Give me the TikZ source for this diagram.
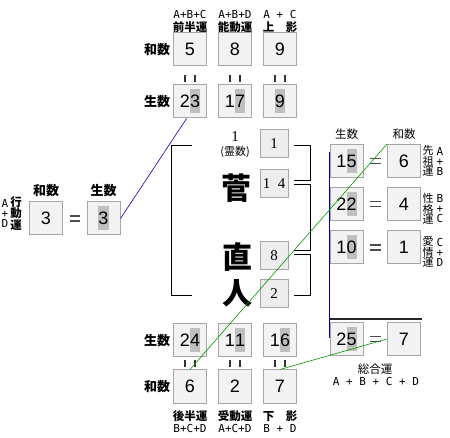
\documentclass[tikz,border=0pt]{standalone}
\usepackage{fontspec}
\newfontfamily\cjk{Noto Sans CJK JP}
\newfontfamily\numf{Liberation Sans}
\newfontfamily\serf{Liberation Serif}
\newfontfamily\monof{DejaVu Sans Mono}
\usetikzlibrary{calc}
\newcommand\hlt[1]{{\setlength\fboxsep{0pt}\colorbox{black!25}{\rule[-5.5pt]{0pt}{24pt}#1}}}
\tikzset{
  numbox/.style={draw=black!35, fill=black!5, line width=1pt, minimum width=33pt, minimum height=33pt, inner sep=0pt, font={\numf\fontsize{18}{18}\selectfont}},
  smallbox/.style={draw=black!35, fill=black!7, line width=1pt, minimum width=28pt, minimum height=28pt, inner sep=0pt, font={\serf\fontsize{15}{15}\selectfont}},
  biglab/.style={inner sep=0pt, font={\cjk\bfseries\fontsize{13}{13}\selectfont}},
  midlab/.style={inner sep=0pt, font={\cjk\fontsize{11.5}{11.5}\selectfont}},
  toplab/.style={inner sep=0pt, font={\cjk\bfseries\fontsize{11.5}{11.5}\selectfont}},
  monolab/.style={inner sep=0pt, font={\monof\fontsize{11}{11}\selectfont}},
  sidecjk/.style={inner sep=0pt, align=center, font={\cjk\fontsize{11}{10}\selectfont}},
  sidelat/.style={inner sep=0pt, align=center, font={\monof\fontsize{11}{10}\selectfont}},
  kanji/.style={inner sep=0pt, font={\cjk\bfseries\fontsize{30}{30}\selectfont}},
  bar/.style={line width=2pt, black!80},
  eqline/.style={line width=1.5pt, black!70},
  brk/.style={line width=0.9pt, black},
}
\begin{document}
\begin{tikzpicture}[x=1pt,y=-1pt]
\useasboundingbox (0,0) rectangle (450,438);
% top labels
\node[monolab] (ta1) at (190,14) {A+B+C};
\node[toplab]  (ta2) at (190,27) {前半運};
\node[monolab] (tb1) at (235,14) {A+B+D};
\node[toplab]  (tb2) at (235,27) {能動運};
\node[monolab] (tc1) at (280,14) {A + C};
\node[toplab]  (tc2) at (280,27) {上　影};
% top rows
\node[biglab] (lw1) at (157,50) {和数};
\node[biglab] (ls1) at (157,102) {生数};
\node[numbox] (t5) at (190,49) {5};
\node[numbox] (t8) at (235,49) {8};
\node[numbox] (t9) at (280,49) {9};
\node[numbox] (s23) at (190,101.5) {2\hlt{3}};
\node[numbox] (s17) at (235,101.5) {1\hlt{7}};
\node[numbox] (s9) at (280,101.5) {\hlt{9}};
\foreach \cx in {190,235,280}{
  \draw[bar] (\cx-5,75) -- (\cx-5,82);
  \draw[bar] (\cx+5,75) -- (\cx+5,82);
}
% left
\node[biglab] (lw2) at (46,191) {和数};
\node[biglab] (ls2) at (103.5,191) {生数};
\node[sidelat] (la) at (5,213.5) {A\\+\\D};
\node[sidecjk,font={\cjk\bfseries\fontsize{11.5}{10}\selectfont}] (lk) at (16,213.5) {行\\動\\運};
\node[numbox] (l3w) at (46,218.5) {3};
\node[numbox] (l3s) at (103.5,218.5) {\hlt{3}};
\draw[eqline] (70,216) -- (80,216);
\draw[eqline] (70,221) -- (80,221);
% center
\node[inner sep=0pt, font={\serf\fontsize{15}{15}\selectfont}] (one) at (235,137) {1};
\node[inner sep=0pt, font={\cjk\fontsize{11}{11}\selectfont}] (rei) at (235,152) {(霊数)};
\node[kanji] (k1) at (236,188) {菅};
\node[kanji] (k2) at (237,257) {直};
\node[kanji] (k3) at (237,293) {人};
\node[smallbox] (c1) at (274,144) {1};
\node[smallbox] (c14) at (274,184) {1\ \ 4};
\node[smallbox] (c8) at (274,256) {8};
\node[smallbox] (c2) at (274,294) {2};
% left bracket
\draw[brk] (192,145) -- (171,145) -- (171,295) -- (192,295);
% right brackets
\draw[brk] (294,145) -- (310,145) -- (310,180) -- (294,180);
\draw[brk] (294,184) -- (310,184) -- (310,250) -- (294,250);
\draw[brk] (294,254) -- (310,254) -- (310,295) -- (294,295);
% right column
\node[midlab] (rs) at (346.5,134) {生数};
\node[midlab] (rw) at (404,134) {和数};
\node[numbox] (r15) at (346.5,161) {1\hlt{5}};
\node[numbox] (r6) at (404,161) {6};
\node[numbox] (r22) at (346.5,204) {2\hlt{2}};
\node[numbox] (r4) at (404,204) {4};
\node[numbox] (r10) at (346.5,247.5) {1\hlt{0}};
\node[numbox] (r1) at (404,247.5) {1};
\node[numbox] (r25) at (346.5,339) {2\hlt{5}};
\node[numbox] (r7) at (404,339) {7};
\foreach \cy in {161,204,247.5,339}{
  \draw[eqline] (370,\cy-2.5) -- (381,\cy-2.5);
  \draw[eqline] (370,\cy+2.5) -- (381,\cy+2.5);
}
\node[sidecjk] (rk1) at (428,161) {先\\祖\\運};
\node[sidelat] (rl1) at (440,161) {A\\+\\B};
\node[sidecjk] (rk2) at (428,208.5) {性\\格\\運};
\node[sidelat] (rl2) at (440,208.5) {B\\+\\C};
\node[sidecjk] (rk3) at (428,252) {愛\\情\\運};
\node[sidelat] (rl3) at (440,252) {C\\+\\D};
\draw[line width=2pt, black!85] (330,319) -- (422,319);
\coordinate (nv1) at (329,152);
\coordinate (nv2) at (329,338);
\draw[blue!60!black, line width=1pt] (nv1) -- (nv2);
\node[midlab] (sg) at (375,369) {総合運};
\node[monolab] (sgf) at (376,381) {A + B + C + D};
% bottom rows
\node[biglab] (ls3) at (157,341) {生数};
\node[biglab] (lw3) at (157,387) {和数};
\node[numbox] (b24) at (190,340) {2\hlt{4}};
\node[numbox] (b11) at (235,340) {1\hlt{1}};
\node[numbox] (b16) at (280,340) {1\hlt{6}};
\node[numbox] (b6) at (190,386.5) {6};
\node[numbox] (b2) at (235,386.5) {2};
\node[numbox] (b7) at (280,386.5) {7};
\foreach \cx in {190,235,280}{
  \draw[bar] (\cx-5,360) -- (\cx-5,367);
  \draw[bar] (\cx+5,360) -- (\cx+5,367);
}
\node[toplab] (ba2) at (190,416) {後半運};
\node[monolab] (ba1) at (190,428) {B+C+D};
\node[toplab] (bb2) at (235,416) {受動運};
\node[monolab] (bb1) at (235,428) {A+C+D};
\node[toplab] (bc2) at (280,416) {下　影};
\node[monolab] (bc1) at (280,428) {B + D};
% connector lines
\draw[blue!70!black, line width=0.6pt] (l3s.east) -- ($(s23.south west)!0.4!(s23.south east)$);
\draw[green!60!black, line width=0.6pt] (b6.north) -- (r6.north west);
\draw[green!60!black, line width=0.6pt] (b7.north) -- (r7.west);
\end{tikzpicture}
\end{document}
